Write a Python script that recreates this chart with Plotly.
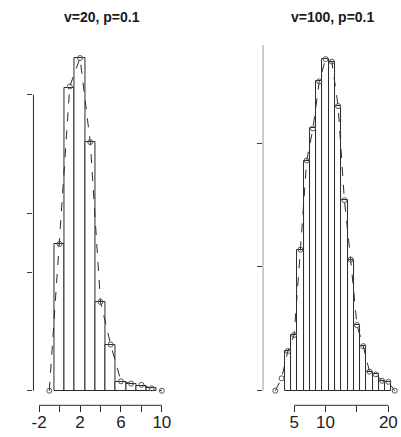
import plotly.graph_objects as go
from plotly.subplots import make_subplots

# left panel: v=20, p=0.1
left_bar_x = [0, 1, 2, 3, 4, 5, 6, 7, 8, 9]
left_bar_y = [0.124, 0.256, 0.281, 0.210, 0.075, 0.039, 0.007, 0.006, 0.004, 0.002]
left_pt_x = [-1, 0, 1, 2, 3, 4, 5, 6, 7, 8, 9, 10]
left_pt_y = [0, 0.124, 0.257, 0.281, 0.210, 0.075, 0.039, 0.008, 0.006, 0.005, 0.002, 0]
left_xticks = [-2, 0, 2, 4, 6, 8, 10]
left_xlabels = ['-2', '', '2', '', '6', '', '10']
left_yticks = [0, 0.1, 0.15, 0.25]

# right panel: v=100, p=0.1
right_bar_x = [4, 5, 6, 7, 8, 9, 10, 11, 12, 13, 14, 15, 16, 17, 18, 19, 20]
right_bar_y = [0.016, 0.0225, 0.057, 0.093, 0.106, 0.125, 0.134, 0.133, 0.115,
               0.077, 0.053, 0.0265, 0.018, 0.0077, 0.0066, 0.004, 0.0036]
right_pt_x = [2, 3, 4, 5, 6, 7, 8, 9, 10, 11, 12, 13, 14, 15, 16, 17, 18, 19, 20, 21]
right_pt_y = [0, 0.005, 0.016, 0.0225, 0.057, 0.093, 0.106, 0.125, 0.134, 0.133,
              0.115, 0.077, 0.053, 0.0265, 0.018, 0.0077, 0.0066, 0.004, 0.0036, 0]
right_xticks = [5, 10, 15, 20]
right_xlabels = ['5', '10', '', '20']
right_yticks = [0, 0.05, 0.10]

titles = ['v=20, p=0.1', 'v=100, p=0.1']

W, H = 401, 437
ink = '#2a2a2a'


def px_x(p):
    return p / W


def px_y(p):
    return (H - p) / H


fig = make_subplots(rows=1, cols=2)

# histograms
for col, (bx, by) in enumerate([(left_bar_x, left_bar_y), (right_bar_x, right_bar_y)], start=1):
    fig.add_trace(
        go.Bar(
            x=bx, y=by, width=1,
            marker=dict(color='white', line=dict(color=ink, width=1)),
            showlegend=False,
        ),
        row=1, col=col
    )

# dashed lines with open circles
for col, (px, py) in enumerate([(left_pt_x, left_pt_y), (right_pt_x, right_pt_y)], start=1):
    fig.add_trace(
        go.Scatter(
            x=px, y=py, mode='lines+markers',
            line=dict(color=ink, width=1, dash='dash'),
            marker=dict(symbol='circle-open', size=5, color='#555555', line=dict(width=1)),
            showlegend=False,
        ),
        row=1, col=col
    )

# panel placement (reference pixels -> paper)
y_dom = [px_y(405.3), px_y(45)]
left_dom = [px_x(31.7), px_x(169.3)]
right_dom = [px_x(263), 1.0]

axis_font = dict(family='Liberation Sans, Arial, sans-serif', size=17, color='#222222')

fig.update_xaxes(domain=left_dom, range=[-2.55, 10.8], tickmode='array',
                 tickvals=left_xticks, ticktext=left_xlabels, row=1, col=1)
fig.update_xaxes(domain=right_dom, range=[0.05, 21.85], tickmode='array',
                 tickvals=right_xticks, ticktext=right_xlabels, row=1, col=2)
fig.update_yaxes(domain=y_dom, range=[-0.0123, 0.292], tickmode='array',
                 tickvals=left_yticks, row=1, col=1)
fig.update_yaxes(domain=y_dom, range=[-0.0059, 0.1397], tickmode='array',
                 tickvals=right_yticks, row=1, col=2)

fig.update_xaxes(showgrid=False, zeroline=False, showline=False, ticks='outside',
                 ticklen=6, tickwidth=1, tickcolor=ink, tickfont=axis_font,
                 ticklabelstandoff=-5)
fig.update_yaxes(showgrid=False, zeroline=False, showline=False, ticks='outside',
                 ticklen=5, tickwidth=1, tickcolor='#444444', showticklabels=False)

# R-style axis lines that stop at the end ticks
fig.add_shape(type='line', xref='x', yref='paper', x0=-2, x1=10, y0=y_dom[0], y1=y_dom[0],
              line=dict(color=ink, width=1))
fig.add_shape(type='line', xref='x2', yref='paper', x0=5, x1=20, y0=y_dom[0], y1=y_dom[0],
              line=dict(color=ink, width=1))
fig.add_shape(type='line', xref='paper', yref='y', x0=left_dom[0], x1=left_dom[0], y0=0, y1=0.25,
              line=dict(color=ink, width=1))
fig.add_shape(type='line', xref='paper', yref='y2', x0=right_dom[0], x1=right_dom[0], y0=0, y1=0.1397,
              line=dict(color='#a09a98', width=1))

# panel titles
for cx, t in zip([101, 333], titles):
    fig.add_annotation(x=px_x(cx), y=px_y(17), xref='paper', yref='paper', text='<b>' + t + '</b>',
                       showarrow=False, xanchor='center', yanchor='middle',
                       font=dict(family='Liberation Sans, Arial, sans-serif', size=14, color='#1a1a1a'))

fig.update_layout(
    width=W, height=H,
    margin=dict(l=0, r=0, t=0, b=0),
    plot_bgcolor='white',
    paper_bgcolor='white',
    bargap=0,
)

# drop the default page margin so the figure fills the window
fig.write_html("out.html", config={'displayModeBar': False},
               post_script="document.body.style.margin='0px';document.body.style.overflow='hidden';")
